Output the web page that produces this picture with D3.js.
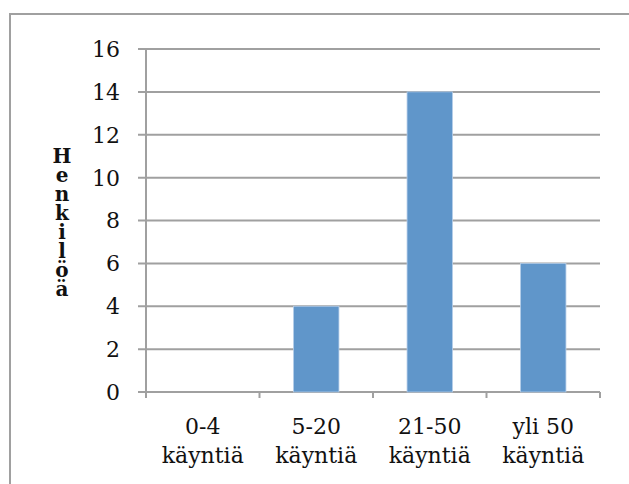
<!DOCTYPE html>
<html>
<head>
<meta charset="utf-8">
<script src="https://cdn.jsdelivr.net/npm/d3@7"></script>
<style>
  body { margin: 0; background: #fff; }
  svg text { font-family: "DejaVu Serif", serif; fill: #111; }
</style>
</head>
<body>
<div id="chart"></div>
<script>
// data
const categories = ['0-4 käyntiä', '5-20 käyntiä', '21-50 käyntiä', 'yli 50 käyntiä'];
const labelLines = [['0-4', 'käyntiä'], ['5-20', 'käyntiä'], ['21-50', 'käyntiä'], ['yli 50', 'käyntiä']];
const counts = [0, 4, 14, 6];
const yTicks = [0, 2, 4, 6, 8, 10, 12, 14, 16];
const yTitle = 'Henkilöä';

const width = 629, height = 484;
const svg = d3.select('#chart').append('svg')
    .attr('width', width)
    .attr('height', height);

// outer frame (cut off on right and bottom)
svg.append('path')
    .attr('d', `M10,${height} L10,14 L${width},14`)
    .attr('fill', 'none')
    .attr('stroke', '#a0a0a0')
    .attr('stroke-width', 2);

const plotLeft = 146, plotRight = 600, plotTop = 49, plotBottom = 392;

const x = d3.scaleBand()
    .domain(categories)
    .range([plotLeft, plotRight])
    .paddingInner(0.6)
    .paddingOuter(0.3);

const xOuter = d3.scaleBand().domain(categories).range([plotLeft, plotRight]);

const y = d3.scaleLinear()
    .domain([0, 16])
    .range([plotBottom, plotTop]);

// gridlines
svg.append('g')
    .selectAll('line')
    .data(yTicks)
    .join('line')
    .attr('x1', plotLeft - 8)
    .attr('x2', plotRight)
    .attr('y1', d => y(d))
    .attr('y2', d => y(d))
    .attr('stroke', '#a0a0a0')
    .attr('stroke-width', 2);

// y axis line
svg.append('line')
    .attr('x1', plotLeft).attr('x2', plotLeft)
    .attr('y1', plotTop).attr('y2', plotBottom + 6)
    .attr('stroke', '#a0a0a0')
    .attr('stroke-width', 2);

// x ticks at band edges
const edges = categories.map(c => xOuter(c)).concat([plotRight]);
svg.append('g')
    .selectAll('line')
    .data(edges)
    .join('line')
    .attr('x1', d => d).attr('x2', d => d)
    .attr('y1', plotBottom).attr('y2', plotBottom + 6)
    .attr('stroke', '#a0a0a0')
    .attr('stroke-width', 2);

// bars
svg.append('g')
    .selectAll('rect')
    .data(counts)
    .join('rect')
    .attr('x', (d, i) => x(categories[i]))
    .attr('width', x.bandwidth())
    .attr('y', d => y(d))
    .attr('height', d => y(0) - y(d))
    .attr('fill', '#6096ca')
    .attr('stroke', '#b4cde8')
    .attr('stroke-width', 0.8);

// y tick labels
svg.append('g')
    .selectAll('text')
    .data(yTicks)
    .join('text')
    .attr('x', 120)
    .attr('y', d => y(d))
    .attr('dy', '0.36em')
    .attr('text-anchor', 'end')
    .attr('font-size', 22)
    .text(d => d);

// x labels (two lines)
const xl = svg.append('g')
    .selectAll('text')
    .data(labelLines)
    .join('text')
    .attr('text-anchor', 'middle')
    .attr('font-size', 22);
xl.each(function(lines, i) {
    const cx = xOuter(categories[i]) + xOuter.bandwidth() / 2;
    d3.select(this).selectAll('tspan')
        .data(lines)
        .join('tspan')
        .attr('x', cx)
        .attr('y', (d, j) => 434 + j * 29)
        .text(d => d);
});

// stacked y-axis title, letters upright in a vertical run
svg.append('text')
    .attr('x', 62)
    .attr('y', 144)
    .attr('font-size', 20)
    .attr('font-weight', 'bold')
    .attr('font-family', '"Liberation Serif", serif')
    .style('writing-mode', 'vertical-rl')
    .style('text-orientation', 'upright')
    .style('letter-spacing', '-5px')
    .text(yTitle);
</script>
</body>
</html>
